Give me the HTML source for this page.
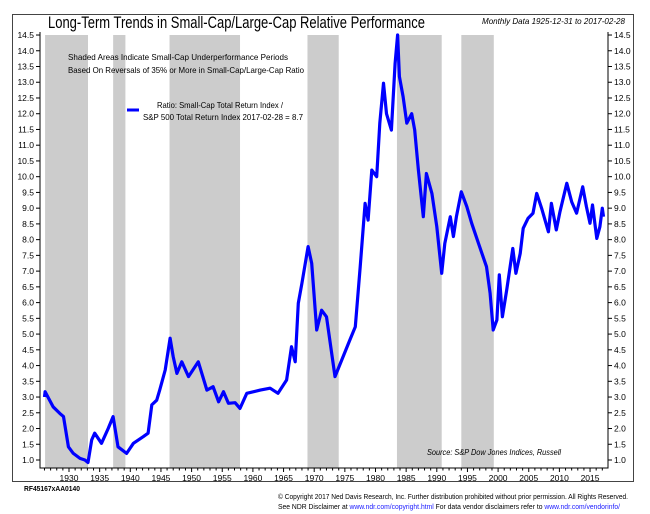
<!DOCTYPE html>
<html><head><meta charset="utf-8"><style>
html,body{margin:0;padding:0;background:#fff;width:650px;height:514px;overflow:hidden}
svg{display:block;font-family:"Liberation Sans",sans-serif}
</style></head><body>
<svg id="chart" width="650" height="514" viewBox="0 0 650 514">
<rect x="12.5" y="14.5" width="621" height="467" fill="#fff" stroke="#444" stroke-width="1"/>
<g id="shades"></g>
<g id="axes"></g>
<path id="line" fill="none" stroke="#0000ff" stroke-width="3.2" stroke-linejoin="round"/>
<text x="48" y="28" font-size="16.5" textLength="377" lengthAdjust="spacingAndGlyphs">Long-Term Trends in Small-Cap/Large-Cap Relative Performance</text>
<text x="482" y="24" font-size="8.5" font-style="italic" textLength="143" lengthAdjust="spacingAndGlyphs">Monthly Data 1925-12-31 to 2017-02-28</text>
<text x="68" y="60" font-size="8.3" textLength="220" lengthAdjust="spacingAndGlyphs">Shaded Areas Indicate Small-Cap Underperformance Periods</text>
<text x="68" y="73" font-size="8.3" textLength="236" lengthAdjust="spacingAndGlyphs">Based On Reversals of 35% or More in Small-Cap/Large-Cap Ratio</text>
<line x1="127" y1="110" x2="139" y2="110" stroke="#0000ff" stroke-width="3"/>
<text x="157" y="108" font-size="8.3" textLength="126" lengthAdjust="spacingAndGlyphs">Ratio: Small-Cap Total Return Index /</text>
<text x="143" y="120" font-size="8.3" textLength="160" lengthAdjust="spacingAndGlyphs">S&amp;P 500 Total Return Index 2017-02-28 = 8.7</text>
<text x="427" y="455" font-size="8.3" font-style="italic" textLength="134" lengthAdjust="spacingAndGlyphs">Source:  S&amp;P Dow Jones Indices, Russell</text>
<text x="24" y="491" font-size="7" font-weight="bold" textLength="56" lengthAdjust="spacingAndGlyphs">RF45167xAA0140</text>
<text x="278" y="499" font-size="7" textLength="350" lengthAdjust="spacingAndGlyphs">© Copyright 2017 Ned Davis Research, Inc. Further distribution prohibited without prior permission. All Rights Reserved.</text>
<text x="278" y="509" font-size="7" textLength="342" lengthAdjust="spacingAndGlyphs">See NDR Disclaimer at <tspan fill="#1a1aff">www.ndr.com/copyright.html</tspan>  For data vendor disclaimers refer to <tspan fill="#1a1aff">www.ndr.com/vendorinfo/</tspan></text>
</svg>
<script>
const years=[1926.0,1926.1,1927.4,1928.5,1929.1,1929.9,1930.7,1931.8,1932.6,1933.1,1933.7,1934.2,1935.3,1936.4,1937.2,1938.0,1939.4,1940.5,1942.1,1942.9,1943.5,1944.3,1944.8,1945.7,1946.5,1947.0,1947.6,1948.4,1949.5,1951.1,1952.5,1953.5,1954.4,1955.2,1956.0,1957.1,1957.9,1959.0,1961.2,1962.8,1964.1,1965.5,1966.3,1966.9,1967.4,1968.0,1969.0,1969.6,1970.4,1971.2,1972.0,1973.4,1974.5,1975.8,1976.7,1977.5,1978.3,1978.8,1979.4,1980.2,1980.7,1981.3,1981.8,1982.6,1983.2,1983.6,1983.9,1984.5,1985.1,1985.9,1986.4,1987.0,1987.8,1988.3,1989.2,1990.0,1990.8,1991.3,1992.2,1992.7,1993.2,1994.0,1994.9,1995.7,1996.8,1998.1,1998.7,1999.2,1999.8,2000.2,2000.7,2001.4,2002.4,2002.9,2003.6,2004.1,2004.9,2005.7,2006.3,2007.1,2008.2,2008.7,2009.5,2010.1,2011.2,2012.0,2012.8,2013.8,2014.4,2015.0,2015.4,2016.1,2016.6,2017.0,2017.2];
const ratio=[3.0,3.17,2.69,2.48,2.38,1.42,1.21,1.05,1.0,0.92,1.64,1.85,1.53,2.0,2.38,1.42,1.21,1.53,1.74,1.85,2.75,2.9,3.22,3.86,4.87,4.28,3.75,4.12,3.65,4.12,3.22,3.33,2.85,3.17,2.8,2.82,2.64,3.12,3.22,3.28,3.12,3.54,4.6,4.12,5.98,6.61,7.78,7.25,5.13,5.76,5.55,3.65,4.18,4.81,5.23,7.14,9.15,8.62,10.21,10.0,11.7,12.97,12.0,11.48,13.6,14.5,13.18,12.54,11.7,12.0,11.48,10.21,8.73,10.1,9.47,8.41,6.93,7.88,8.73,8.1,8.73,9.52,9.05,8.52,7.88,7.14,6.3,5.13,5.45,6.88,5.55,6.4,7.72,6.93,7.56,8.36,8.68,8.84,9.47,9.0,8.25,9.15,8.31,8.89,9.79,9.2,8.84,9.68,9.05,8.52,9.1,8.04,8.41,9.0,8.73];
const shadeStarts=[1926.1,1937.2,1946.4,1968.9,1983.5,1994.0];
const shadeEnds=[1933.1,1939.2,1957.9,1974.0,1990.8,1999.3];
const yTicks=[1.0,1.5,2.0,2.5,3.0,3.5,4.0,4.5,5.0,5.5,6.0,6.5,7.0,7.5,8.0,8.5,9.0,9.5,10.0,10.5,11.0,11.5,12.0,12.5,13.0,13.5,14.0,14.5];
const xLabels=[1930,1935,1940,1945,1950,1955,1960,1965,1970,1975,1980,1985,1990,1995,2000,2005,2010,2015];
const NS='http://www.w3.org/2000/svg';
const X0=40,X1=608,YB=468,YT=35;
function xs(yr){return 69+(yr-1930)*6.13;}
function ys(v){return 460-(v-1)*31.48;}
function mk(tag,attrs,parent,txt){const e=document.createElementNS(NS,tag);for(const k in attrs)e.setAttribute(k,attrs[k]);if(txt!==undefined)e.textContent=txt;parent.appendChild(e);return e;}
const sh=document.getElementById('shades');
shadeStarts.forEach((s,i)=>{
 const r=mk('rect',{x:xs(s),y:YT,width:xs(shadeEnds[i])-xs(s),height:YB-YT,fill:'#cccccc'},sh);
 
 
});
const ax=document.getElementById('axes');
const a1=mk('path',{d:`M${X0},${YT-3}V${YB}H${X1}V${YT-3}`,fill:'none',stroke:'#000','stroke-width':1},ax);


yTicks.forEach(v=>{
 const y=ys(v);
 mk('line',{x1:X0-4,y1:y,x2:X0,y2:y,stroke:'#000'},ax);
 mk('line',{x1:X1,y1:y,x2:X1+4,y2:y,stroke:'#000'},ax);
 const t1=mk('text',{x:X0-6,y:y+3,'font-size':8.5,'text-anchor':'end'},ax,v.toFixed(1));
 
 
 const t2=mk('text',{x:X1+6,y:y+3,'font-size':8.5},ax,v.toFixed(1));
 
 
});
for(let yr=1926;yr<=2017;yr++){
 const x=xs(yr);
 mk('line',{x1:x,y1:YB,x2:x,y2:YB+(yr%5===0?4:2.5),stroke:'#000'},ax);
}
xLabels.forEach(yr=>{
 const t=mk('text',{x:xs(yr),y:YB+13,'font-size':8.5,'text-anchor':'middle'},ax,String(yr));
 
 
});
document.getElementById('line').setAttribute('d',years.map((yr,i)=>(i?'L':'M')+xs(yr).toFixed(1)+','+ys(ratio[i]).toFixed(1)).join(''));
</script>
</body></html>
